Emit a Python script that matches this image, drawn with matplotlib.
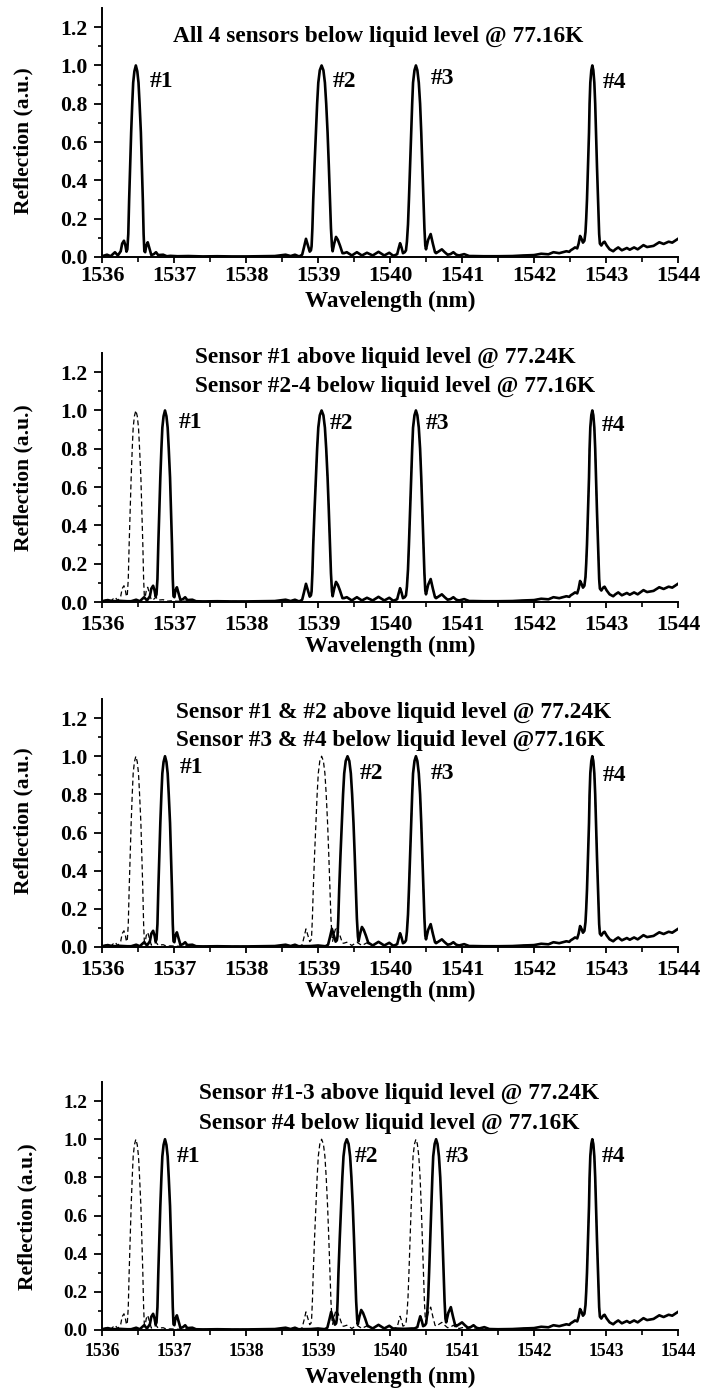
import numpy as np
import matplotlib.pyplot as plt
from matplotlib.ticker import MultipleLocator, FixedLocator, FormatStrFormatter

plt.rcParams["font.family"] = ["Liberation Serif", "DejaVu Serif"]
plt.rcParams["font.weight"] = "bold"

# FBG reflection peaks: offset from Bragg wavelength (nm) and reflection (a.u.)
s1_off = [-0.47, -0.40, -0.35, -0.29, -0.25, -0.21, -0.19, -0.165, -0.145, -0.13, -0.118,
          -0.105, -0.093, -0.08, -0.065, -0.05, -0.037, -0.02, 0.0, 0.02, 0.037, 0.052,
          0.07, 0.084, 0.097, 0.108, 0.118, 0.13, 0.145, 0.165, 0.185, 0.215, 0.25, 0.28,
          0.31, 0.38, 0.43]
s1_val = [0.004, 0.012, 0.004, 0.025, 0.008, 0.03, 0.07, 0.085, 0.06, 0.028, 0.04,
          0.12, 0.30, 0.47, 0.65, 0.80, 0.91, 0.97, 1.0, 0.97, 0.91, 0.80,
          0.65, 0.47, 0.30, 0.12, 0.03, 0.025, 0.06, 0.077, 0.05, 0.01, 0.015, 0.025,
          0.01, 0.012, 0.004]

s2_off = [-0.30, -0.27, -0.245, -0.217, -0.19, -0.165, -0.148, -0.139, -0.128, -0.116,
          -0.098, -0.079, -0.062, -0.046, -0.025, 0.0, 0.025, 0.046, 0.064, 0.083, 0.10,
          0.116, 0.13, 0.144, 0.153, 0.175, 0.20, 0.225, 0.255, 0.29, 0.30]
s2_val = [0.005, 0.012, 0.05, 0.095, 0.06, 0.028, 0.035, 0.056, 0.15, 0.30,
          0.48, 0.65, 0.80, 0.91, 0.975, 1.0, 0.975, 0.91, 0.80, 0.65, 0.48,
          0.30, 0.15, 0.056, 0.03, 0.07, 0.105, 0.09, 0.06, 0.02, 0.02]

s3_off = [-0.30, -0.26, -0.24, -0.22, -0.20, -0.18, -0.155, -0.138, -0.125, -0.11, -0.097,
          -0.082, -0.065, -0.052, -0.04, -0.02, 0.0, 0.02, 0.04, 0.058, 0.074, 0.09, 0.106,
          0.118, 0.13, 0.14, 0.17, 0.205, 0.235, 0.265, 0.28, 0.32, 0.36, 0.40, 0.44, 0.48,
          0.52, 0.56, 0.60, 0.67, 0.74]
s3_val = [0.008, 0.015, 0.045, 0.072, 0.05, 0.02, 0.025, 0.035, 0.08, 0.17, 0.30,
          0.47, 0.65, 0.80, 0.91, 0.975, 1.0, 0.975, 0.91, 0.80, 0.65, 0.47, 0.30,
          0.15, 0.06, 0.04, 0.09, 0.12, 0.07, 0.025, 0.02, 0.03, 0.04, 0.025, 0.012, 0.015,
          0.025, 0.012, 0.008, 0.015, 0.005]

s4_off = [-0.30, -0.27, -0.24, -0.21, -0.19, -0.17, -0.15, -0.13, -0.11, -0.095, -0.085,
          -0.074, -0.06, -0.046, -0.038, -0.028, -0.014, 0.0, 0.014, 0.028, 0.04, 0.051,
          0.065, 0.079, 0.088, 0.095, 0.105, 0.125, 0.15, 0.17, 0.20, 0.24, 0.29]
s4_val = [0.035, 0.042, 0.05, 0.045, 0.07, 0.11, 0.095, 0.075, 0.085, 0.13, 0.20,
          0.30, 0.47, 0.65, 0.80, 0.91, 0.975, 1.0, 0.975, 0.91, 0.80, 0.65,
          0.47, 0.30, 0.20, 0.12, 0.07, 0.06, 0.075, 0.08, 0.06, 0.04, 0.03]

# background of the spectrum between the peaks
base_wl = [1536.00, 1536.08, 1536.15, 1536.25, 1536.35, 1536.45, 1536.55, 1536.65,
           1536.75, 1536.85, 1536.95, 1537.05, 1537.2, 1537.4, 1537.6, 1537.8, 1538.0,
           1538.2, 1538.4, 1538.55, 1538.62, 1538.68, 1538.73, 1538.9, 1539.0, 1539.1,
           1539.36, 1539.40, 1539.47, 1539.54, 1539.61, 1539.68, 1539.76, 1539.84,
           1539.92, 1539.99, 1540.04, 1540.2, 1540.3, 1541.15, 1541.3, 1541.5, 1541.7,
           1541.85, 1542.0, 1542.1, 1542.2, 1542.27, 1542.35, 1542.45, 1542.49, 1543.13,
           1543.17, 1543.22, 1543.29, 1543.33, 1543.39, 1543.44, 1543.52, 1543.57,
           1543.66, 1543.74, 1543.80, 1543.87, 1543.92, 1544.0]
base_r = [0.004, 0.010, 0.004, 0.006, 0.004, 0.006, 0.004, 0.006,
          0.004, 0.005, 0.006, 0.004, 0.005, 0.003, 0.004, 0.003, 0.003,
          0.004, 0.005, 0.012, 0.005, 0.012, 0.004, 0.005, 0.008, 0.004,
          0.02, 0.025, 0.008, 0.025, 0.008, 0.022, 0.008, 0.027,
          0.008, 0.022, 0.008, 0.006, 0.008, 0.005, 0.004, 0.004, 0.005,
          0.008, 0.01, 0.017, 0.014, 0.025, 0.02, 0.03, 0.027, 0.04,
          0.05, 0.035, 0.047, 0.038, 0.05, 0.04, 0.062, 0.052,
          0.058, 0.077, 0.068, 0.08, 0.075, 0.095]

# Bragg wavelength (nm) of sensors #1-#4 in each panel
centers = [
    [1536.47, 1539.05, 1540.36, 1542.81],
    [1536.875, 1539.05, 1540.36, 1542.81],
    [1536.875, 1539.41, 1540.36, 1542.81],
    [1536.875, 1539.40, 1540.64, 1542.81],
]

titles = [
    ["All 4 sensors below liquid level @ 77.16K"],
    ["Sensor #1 above liquid level @ 77.24K", "Sensor #2-4 below liquid level @ 77.16K"],
    ["Sensor #1 & #2 above liquid level @ 77.24K", "Sensor #3 & #4 below liquid level @77.16K"],
    ["Sensor #1-3 above liquid level @ 77.24K", "Sensor #4 below liquid level @ 77.16K"],
]
sensor_names = ["#1", "#2", "#3", "#4"]

profiles = [(s1_off, s1_val), (s2_off, s2_val), (s3_off, s3_val), (s4_off, s4_val)]


def spectrum(cs):
    bw = np.array(base_wl)
    br = np.array(base_r)
    keep = np.ones(len(bw), bool)
    xs, ys = [], []
    for c, (off, val) in zip(cs, profiles):
        x = c + np.array(off)
        keep &= (bw < x[0]) | (bw > x[-1])
        xs.append(x)
        ys.append(np.array(val))
    xs = np.concatenate([bw[keep]] + xs)
    ys = np.concatenate([br[keep]] + ys)
    order = np.argsort(xs)
    return xs[order], ys[order]


W, H = 702, 1393
fig = plt.figure(figsize=(W / 100, H / 100), dpi=100)

# axes top / bottom in pixels
panels = [(8, 257), (353, 602), (699, 947), (1082, 1330)]
ylabel_y = [0.466, 0.5, 0.508, 0.456]
label_pos = [
    [(1536.67, 0.915), (1539.21, 0.915), (1540.56, 0.93), (1542.96, 0.91)],
    [(1537.06, 0.935), (1539.17, 0.93), (1540.49, 0.93), (1542.94, 0.92)],
    [(1537.08, 0.94), (1539.58, 0.91), (1540.56, 0.91), (1542.96, 0.90)],
    [(1537.04, 0.91), (1539.51, 0.91), (1540.78, 0.91), (1542.94, 0.91)],
]
title_pos = [
    [(1539.83, 1.15, "center")],
    [(1537.29, 1.276, "left"), (1537.29, 1.128, "left")],
    [(1537.03, 1.232, "left"), (1537.03, 1.085, "left")],
    [(1537.35, 1.239, "left"), (1537.35, 1.082, "left")],
]

for i, (top, bot) in enumerate(panels):
    ax = fig.add_axes([102 / W, 1 - bot / H, 576 / W, (bot - top) / H])
    if i > 0:
        ax.plot(*spectrum(centers[0]), color="k", lw=0.9, ls=(0, (4, 2.5)))
    ax.plot(*spectrum(centers[i]), color="k", lw=1.9)

    ax.set_xlim(1536, 1544)
    ax.set_ylim(0, 1.3)
    ax.xaxis.set_major_locator(MultipleLocator(1))
    ax.xaxis.set_minor_locator(MultipleLocator(0.5))
    ax.yaxis.set_major_locator(FixedLocator([0, 0.2, 0.4, 0.6, 0.8, 1.0, 1.2]))
    ax.yaxis.set_minor_locator(FixedLocator([0.1, 0.3, 0.5, 0.7, 0.9, 1.1]))
    ax.yaxis.set_major_formatter(FormatStrFormatter("%.1f"))
    for s in ["top", "right"]:
        ax.spines[s].set_visible(False)
    for s in ["left", "bottom"]:
        ax.spines[s].set_linewidth(1.4)

    xfs, yfs = (12.8, 13.8) if i == 3 else (16, 15.7)
    xpad = 2 if i == 0 else 5
    ax.tick_params(axis="x", which="major", length=4.5, width=1.3, labelsize=xfs, pad=xpad)
    ax.tick_params(axis="x", which="minor", length=3.5, width=1.2)
    ax.tick_params(axis="y", which="major", length=5.5, width=1.3, labelsize=yfs, pad=5)
    ax.tick_params(axis="y", which="minor", length=3, width=1.2)

    ax.set_xlabel("Wavelength (nm)", fontsize=16.7, fontweight="bold")
    ax.xaxis.set_label_coords(0.5, -(47 if i == 3 else 44) / (bot - top))
    ax.xaxis.label.set_va("center")
    ax.set_ylabel("Reflection (a.u.)", fontsize=15.5, fontweight="bold")
    ax.yaxis.set_label_coords(-(75 if i == 3 else 79) / 576, ylabel_y[i])
    ax.yaxis.label.set_va("center")

    for (tx, ty, ha), txt in zip(title_pos[i], titles[i]):
        ax.text(tx, ty, txt, ha=ha, va="center", fontsize=16.8, fontweight="bold")
    for (lx, ly), name in zip(label_pos[i], sensor_names):
        ax.text(lx, ly, name, ha="left", va="center", fontsize=17, fontweight="bold")

fig.savefig("out.png", dpi=100)
